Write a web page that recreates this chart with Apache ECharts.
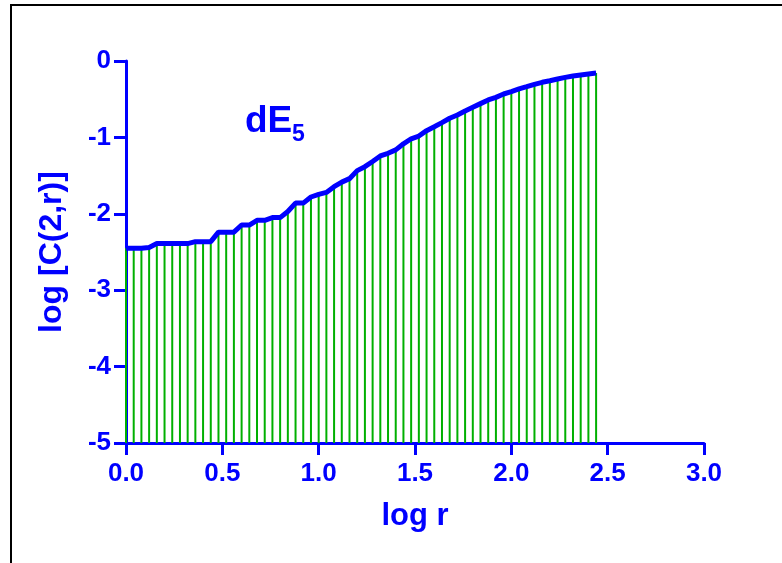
<!DOCTYPE html>
<html><head><meta charset="utf-8">
<script src="https://cdn.jsdelivr.net/npm/echarts@6/dist/echarts.min.js"></script>
<style>html,body{margin:0;padding:0;background:#fff}#c{width:782px;height:563px}</style>
</head><body><div id="c"></div>
<script>
const logR = [0,0.04,0.08,0.12,0.16,0.20,0.24,0.28,0.32,0.36,0.40,0.44,0.48,0.52,0.56,0.60,0.64,0.68,0.72,0.76,0.80,0.84,0.88,0.92,0.96,1.00,1.04,1.08,1.12,1.16,1.20,1.24,1.28,1.32,1.36,1.40,1.44,1.48,1.52,1.56,1.60,1.64,1.68,1.72,1.76,1.80,1.84,1.88,1.92,1.96,2.00,2.04,2.08,2.12,2.16,2.20,2.24,2.28,2.32,2.36,2.40,2.44];
const logC = [-2.45,-2.45,-2.45,-2.44,-2.39,-2.39,-2.39,-2.39,-2.39,-2.365,-2.365,-2.365,-2.24,-2.24,-2.24,-2.147,-2.147,-2.085,-2.085,-2.05,-2.05,-1.97,-1.86,-1.86,-1.78,-1.745,-1.72,-1.645,-1.585,-1.54,-1.435,-1.383,-1.315,-1.243,-1.208,-1.163,-1.084,-1.018,-0.982,-0.912,-0.86,-0.807,-0.75,-0.707,-0.654,-0.606,-0.558,-0.51,-0.476,-0.432,-0.401,-0.366,-0.336,-0.305,-0.279,-0.258,-0.236,-0.214,-0.196,-0.183,-0.17,-0.157];
const xTicks = ['0.0','0.5','1.0','1.5','2.0','2.5','3.0'];
const baseY = -5;

const pts = logR.map((x, i) => [x, logC[i]]);
const FONT = '"Liberation Sans", Arial, sans-serif';
const BLUE = '#0000ff';
const chart = echarts.init(document.getElementById('c'), null, {renderer: 'canvas'});
chart.setOption({
  animation: false,
  backgroundColor: '#fff',
  grid: {left: 126, right: 78, top: 61, bottom: 120, containLabel: false},
  xAxis: {
    type: 'value', min: 0, max: 3, interval: 0.5,
    axisLine: {onZero: false, lineStyle: {color: BLUE, width: 3}},
    axisTick: {length: 12, lineStyle: {color: BLUE, width: 3}},
    splitLine: {show: false},
    axisLabel: {color: BLUE, fontFamily: FONT, fontWeight: 'bold', fontSize: 26, margin: 18,
      formatter: v => xTicks[Math.round(v / 0.5)]},
    name: 'log r', nameLocation: 'middle', nameGap: 58,
    nameTextStyle: {color: BLUE, fontFamily: FONT, fontWeight: 'bold', fontSize: 31}
  },
  yAxis: {
    type: 'value', min: -5, max: 0, interval: 1,
    axisLine: {onZero: false, lineStyle: {color: BLUE, width: 3}},
    axisTick: {length: 12, lineStyle: {color: BLUE, width: 3}},
    splitLine: {show: false},
    axisLabel: {color: BLUE, fontFamily: FONT, fontWeight: 'bold', fontSize: 26, margin: 15},
    name: 'log [C(2,r)]', nameLocation: 'middle', nameGap: 58,
    nameTextStyle: {color: BLUE, fontFamily: FONT, fontWeight: 'bold', fontSize: 32}
  },
  graphic: [
    {type: 'rect', shape: {x: 11, y: 5, width: 820, height: 620}, style: {fill: 'none', stroke: '#000', lineWidth: 2}, silent: true},
    {type: 'text', x: 245, y: 122, style: {text: 'dE', fill: BLUE, font: 'bold 37px ' + FONT, textVerticalAlign: 'middle'}},
    {type: 'text', x: 292, y: 135, style: {text: '5', fill: BLUE, font: 'bold 23px ' + FONT, textVerticalAlign: 'middle'}}
  ],
  series: [
    {
      type: 'custom',
      data: pts,
      renderItem: (params, api) => {
        const top = api.coord([api.value(0), api.value(1)]);
        const bot = api.coord([api.value(0), baseY]);
        return {type: 'line', shape: {x1: top[0], y1: top[1], x2: bot[0], y2: bot[1]},
          style: {stroke: '#00b000', lineWidth: 2}};
      },
      z: 1
    },
    {
      type: 'line', data: pts, symbol: 'none', z: 3,
      lineStyle: {color: BLUE, width: 5}
    }
  ]
});
</script></body></html>
